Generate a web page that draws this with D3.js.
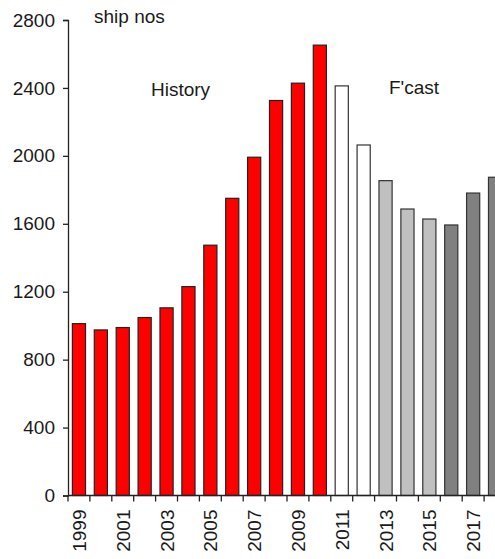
<!DOCTYPE html>
<html>
<head>
<meta charset="utf-8">
<script src="https://cdn.jsdelivr.net/npm/d3@7"></script>
<style>
  html, body { margin: 0; padding: 0; background: #fff; overflow: hidden; }
  svg { display: block; }
  text { font-family: "Liberation Sans", Arial, sans-serif; fill: #1a1a1a; }
</style>
</head>
<body>
<svg id="chart" width="495" height="559"></svg>
<script>
const years = [1999, 2000, 2001, 2002, 2003, 2004, 2005, 2006, 2007, 2008,
               2009, 2010, 2011, 2012, 2013, 2014, 2015, 2016, 2017, 2018];
const shipNos = [1012, 975, 989, 1048, 1105, 1230, 1474, 1750, 1992, 2326,
                 2428, 2652, 2412, 2064, 1854, 1687, 1628, 1593, 1781, 1874];
const groups = ["hist", "hist", "hist", "hist", "hist", "hist", "hist", "hist", "hist", "hist",
                "hist", "hist", "fc1", "fc1", "fc2", "fc2", "fc2", "fc3", "fc3", "fc3"];
const groupColors = { hist: "#ff0000", fc1: "#ffffff", fc2: "#c0c0c0", fc3: "#808080" };
const yTicks = [0, 400, 800, 1200, 1600, 2000, 2400, 2800];
const labelledYears = [1999, 2001, 2003, 2005, 2007, 2009, 2011, 2013, 2015, 2017];
const annotations = [
  { text: "ship nos", x: 94, y: 23 },
  { text: "History", x: 151, y: 96 },
  { text: "F'cast", x: 389, y: 94 }
];

const svg = d3.select("#chart");
const mLeft = 68, mRight = 506, mTop = 20, mBottom = 495.5;

const x = d3.scaleBand().domain(years).range([mLeft, mRight]).paddingInner(0).paddingOuter(0);
const y = d3.scaleLinear().domain([0, 2800]).range([mBottom, mTop]);
const bw = x.bandwidth();
const barW = bw * 0.6;

// bars
svg.append("g").selectAll("rect").data(years).join("rect")
  .attr("x", (d) => x(d) + (bw - barW) / 2)
  .attr("y", (d, i) => y(shipNos[i]))
  .attr("width", barW)
  .attr("height", (d, i) => y(0) - y(shipNos[i]))
  .attr("fill", (d, i) => groupColors[groups[i]])
  .attr("stroke", (d, i) => groups[i] === "hist" ? "#222" : "#333")
  .attr("stroke-width", 1.2);

// y axis
const yAxis = d3.axisLeft(y).tickValues(yTicks).tickSize(5).tickPadding(8).tickFormat(d3.format("d"));
const gy = svg.append("g").attr("transform", `translate(${mLeft},0)`).call(yAxis);
gy.select(".domain").attr("stroke", "#222").attr("stroke-width", 1.3);
gy.selectAll(".tick line").attr("stroke", "#222").attr("stroke-width", 1.3);
gy.selectAll(".tick text").style("font-size", "19px").style("font-family", "'Liberation Sans', Arial, sans-serif").attr("fill", "#1a1a1a");

// x axis line
svg.append("line").attr("x1", mLeft).attr("x2", mRight).attr("y1", y(0)).attr("y2", y(0))
  .attr("stroke", "#222").attr("stroke-width", 1.3);

// x ticks at band edges
svg.append("g").selectAll("line").data(years).join("line")
  .attr("x1", (d) => x(d)).attr("x2", (d) => x(d))
  .attr("y1", y(0)).attr("y2", y(0) + 6)
  .attr("stroke", "#222").attr("stroke-width", 1.3);

// x labels rotated
svg.append("g").selectAll("text").data(labelledYears).join("text")
  .attr("transform", (d) => `translate(${x(d) + bw / 2 + 7},${y(0) + 14}) rotate(-90)`)
  .attr("text-anchor", "end")
  .style("font-size", "19px")
  .text((d) => d);

// annotations
svg.append("g").selectAll("text").data(annotations).join("text")
  .attr("x", (d) => d.x).attr("y", (d) => d.y)
  .style("font-size", "19px")
  .text((d) => d.text);
</script>
</body>
</html>
